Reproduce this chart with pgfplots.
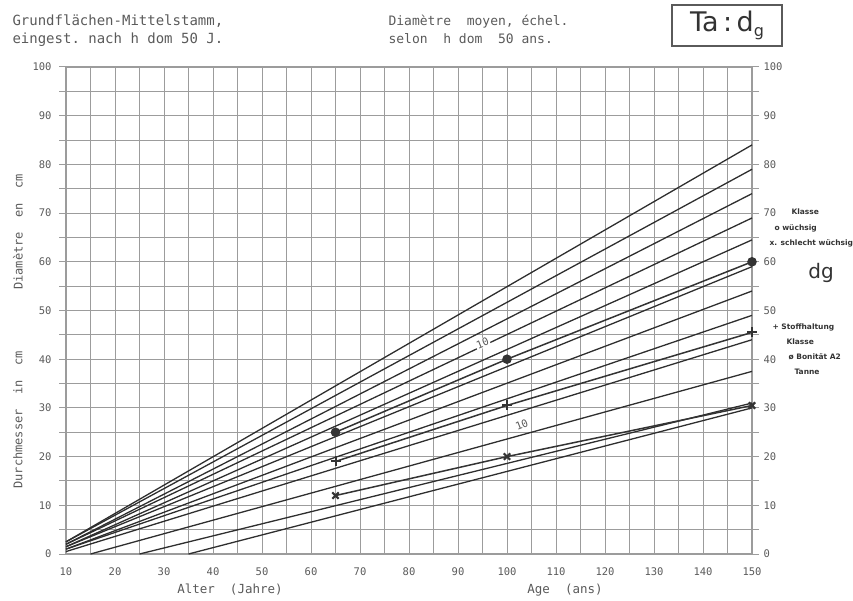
\documentclass[border=0pt]{standalone}
\usepackage{pgfplots}
\pgfplotsset{compat=1.18}
\usepackage{fontspec}
\setmainfont{DejaVu Sans}
\setmonofont{DejaVu Sans Mono}
\definecolor{txt}{HTML}{5A5A5A}
\definecolor{ln}{HTML}{2E2E2E}
\definecolor{gr}{HTML}{9C9C9C}
\definecolor{hand}{HTML}{333333}
\newcommand{\lett}[1]{\ttfamily\fontsize{#1}{#1}\selectfont}
\begin{document}
\begin{tikzpicture}
\begin{axis}[
  at={(0pt,0pt)}, anchor=south west,
  scale only axis, width=686pt, height=487pt,
  xmin=10, xmax=150, ymin=0, ymax=100,
  xtick={10,20,...,150}, minor xtick={15,25,...,145},
  ytick={0,10,...,100}, minor ytick={5,15,...,95},
  grid=both,
  major grid style={gr, line width=1pt},
  minor grid style={gr, line width=1pt},
  axis line style={gr, line width=1.1pt},
  xtick style={draw=none},
  ytick style={gr, line width=1pt},
  ytick pos=both, yticklabel pos=left,
  tick align=outside,
  major tick length=7pt, minor tick length=7pt,
  /pgf/number format/assume math mode=true,
  tick label style={font=\lett{10.5}, text=txt},
  xticklabel style={yshift=-3pt},
  yticklabel style={xshift=-4pt},
  clip=false,
]
% printed family of curves
\addplot[ln, line width=1.3pt] coordinates {(10,2.5) (150,84)};
\addplot[ln, line width=1.3pt] coordinates {(10,2.5) (150,79)};
\addplot[ln, line width=1.3pt] coordinates {(10,2) (150,74)};
\addplot[ln, line width=1.3pt] coordinates {(10,2) (150,69)};
\addplot[ln, line width=1.3pt] coordinates {(10,1.5) (150,64.5)};
\addplot[ln, line width=1.3pt] coordinates {(10,1.5) (150,59)};
\addplot[ln, line width=1.3pt] coordinates {(10,1) (150,54)};
\addplot[ln, line width=1.3pt] coordinates {(10,1) (150,49)};
\addplot[ln, line width=1.3pt] coordinates {(10,0.5) (150,44)};
\addplot[ln, line width=1.3pt] coordinates {(15,0) (150,37.5)};
\addplot[ln, line width=1.3pt] coordinates {(25,0) (150,31)};
\addplot[ln, line width=1.3pt] coordinates {(35,0) (150,30)};
% hand-drawn class lines with marks
\addplot[hand, line width=1.5pt, mark=*, mark size=4pt] coordinates {(65,25) (100,40) (150,60)};
\addplot[hand, line width=1.5pt, mark=+, mark size=5pt, mark options={line width=2pt}] coordinates {(65,19) (100,30.5) (150,45.5)};
\addplot[hand, line width=1.5pt, mark=x, mark size=4.5pt, mark options={line width=2.2pt}] coordinates {(65,12) (100,20) (150,30.5)};
\node[rotate=22, font=\lett{10.5}, text=txt, fill=white, inner sep=1pt] at (axis cs:95,43.3) {10};
\node[rotate=22, font=\lett{10.5}, text=txt, fill=white, inner sep=1pt] at (axis cs:103,26.6) {10};
\end{axis}
\begin{axis}[
  at={(0pt,0pt)}, anchor=south west,
  scale only axis, width=686pt, height=487pt,
  xmin=10, xmax=150, ymin=0, ymax=100,
  axis x line=none, axis y line*=right,
  axis line style={draw=none},
  ytick={0,10,...,100}, ytick style={draw=none},
  /pgf/number format/assume math mode=true,
  yticklabel style={font=\lett{10.5}, text=txt, xshift=8pt},
]
\addplot[draw=none] coordinates {(10,0)};
\end{axis}
% axis titles
\node[rotate=90, font=\lett{12}, text=txt] at (-48pt,322pt) {Diamètre~~en~~cm};
\node[rotate=90, font=\lett{12}, text=txt] at (-48pt,134pt) {Durchmesser~~in~~cm};
\node[font=\lett{12.5}, text=txt] at (164pt,-36pt) {Alter~~(Jahre)};
\node[font=\lett{12.5}, text=txt] at (499pt,-36pt) {Age~~(ans)};
% header
\node[anchor=base west, font=\lett{14}, text=txt] at (-57pt,528pt) {Grundflächen-Mittelstamm,};
\node[anchor=base west, font=\lett{14}, text=txt] at (-57pt,510pt) {eingest. nach h dom 50 J.};
\node[anchor=base west, font=\lett{13}, text=txt] at (319pt,528pt) {Diamètre~~moyen, échel.};
\node[anchor=base west, font=\lett{13}, text=txt] at (319pt,510pt) {selon~~h dom~~50 ans.};
\draw[txt, line width=1.6pt] (606pt,508pt) rectangle (716pt,549pt);
\node[font=\fontsize{27}{27}\selectfont, text=hand] at (661pt,528.5pt) {Ta\,:\,d\raisebox{-5pt}{\fontsize{16}{16}\selectfont g}};
% handwritten notes right
\node[anchor=west, font=\fontsize{7.5}{8}\selectfont\bfseries, text=hand] at (722pt,342pt) {Klasse};
\node[anchor=west, font=\fontsize{7.5}{8}\selectfont\bfseries, text=hand] at (705pt,326pt) {o wüchsig};
\node[anchor=west, font=\fontsize{7.5}{8}\selectfont\bfseries, text=hand] at (700pt,311pt) {x. schlecht wüchsig};
\node[font=\fontsize{20}{20}\selectfont, text=hand] at (755pt,281pt) {dg};
\node[anchor=west, font=\fontsize{7.5}{8}\selectfont\bfseries, text=hand] at (703pt,227pt) {+ Stoffhaltung};
\node[anchor=west, font=\fontsize{7.5}{8}\selectfont\bfseries, text=hand] at (717pt,212pt) {Klasse};
\node[anchor=west, font=\fontsize{7.5}{8}\selectfont\bfseries, text=hand] at (719pt,197pt) {ø Bonität A2};
\node[anchor=west, font=\fontsize{7.5}{8}\selectfont\bfseries, text=hand] at (725pt,182pt) {Tanne};
\pgfresetboundingbox
\path[use as bounding box] (-66pt,-46pt) rectangle (787pt,554pt);
\end{tikzpicture}
\end{document}
